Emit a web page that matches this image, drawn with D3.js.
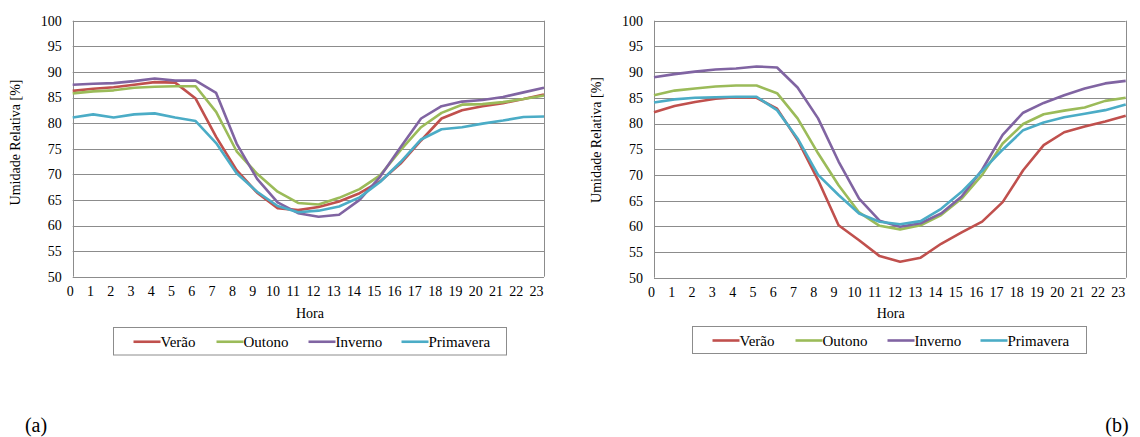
<!DOCTYPE html>
<html>
<head>
<meta charset="utf-8">
<script src="https://cdn.jsdelivr.net/npm/d3@7/dist/d3.min.js"></script>
<style>
  html, body { margin: 0; padding: 0; background: #fff; }
  svg { display: block; }
</style>
</head>
<body>
<svg id="chart" width="1140" height="437"></svg>
<script>
// ---- Data ----
const hours = d3.range(0, 24);
const seriesNames = ["Verão", "Outono", "Inverno", "Primavera"];
const yTicks = [50, 55, 60, 65, 70, 75, 80, 85, 90, 95, 100];

// Panel (a)
const aVerao     = [86.3, 86.7, 87.0, 87.5, 88.0, 87.9, 84.8, 77.3, 70.8, 66.4, 63.4, 63.0, 63.6, 64.7, 66.3, 68.6, 72.1, 76.6, 80.9, 82.5, 83.3, 83.9, 84.7, 85.6];
const aOutono    = [85.8, 86.2, 86.4, 86.9, 87.1, 87.2, 87.2, 82.2, 74.5, 70.1, 66.6, 64.4, 64.1, 65.4, 67.1, 69.8, 74.7, 79.2, 82.0, 83.6, 83.7, 84.1, 84.7, 85.4];
const aInverno   = [87.5, 87.7, 87.8, 88.2, 88.7, 88.3, 88.3, 85.9, 76.0, 69.1, 64.5, 62.4, 61.7, 62.1, 65.0, 69.5, 75.3, 80.9, 83.3, 84.2, 84.5, 85.1, 86.0, 86.9];
const aPrimavera = [81.1, 81.7, 81.1, 81.7, 81.9, 81.1, 80.4, 76.1, 70.2, 66.6, 63.8, 62.6, 62.9, 63.7, 65.5, 68.5, 72.4, 76.8, 78.8, 79.2, 79.9, 80.5, 81.2, 81.3];

// Panel (b)
const bVerao     = [82.2, 83.4, 84.2, 84.8, 85.1, 85.0, 82.9, 76.8, 69.0, 60.2, 57.3, 54.2, 53.1, 53.9, 56.6, 58.8, 60.9, 64.7, 70.9, 75.8, 78.3, 79.4, 80.4, 81.5];
const bOutono    = [85.5, 86.4, 86.8, 87.2, 87.4, 87.4, 85.9, 81.0, 74.2, 68.0, 62.7, 60.1, 59.4, 60.2, 62.2, 65.4, 70.0, 76.1, 79.9, 81.8, 82.5, 83.1, 84.4, 85.0];
const bInverno   = [89.0, 89.6, 90.1, 90.5, 90.7, 91.1, 90.9, 87.0, 81.0, 72.6, 65.4, 61.1, 59.9, 60.6, 62.5, 65.8, 71.0, 77.8, 82.1, 84.0, 85.5, 86.8, 87.8, 88.3];
const bPrimavera = [84.1, 84.7, 85.0, 85.1, 85.2, 85.2, 82.6, 77.1, 70.0, 66.1, 62.5, 60.9, 60.4, 61.0, 63.4, 66.7, 70.8, 74.9, 78.7, 80.2, 81.2, 81.9, 82.6, 83.7];

const yLabel = "Umidade Relativa [%]";
const xLabel = "Hora";

const FONT = '"Liberation Serif", "Times New Roman", serif';

// ---- Styles ----
const colors = ["#C0504D", "#9BBB59", "#8064A2", "#4BACC6"];
const gridColor = "#8c8c8c";

const panels = [
  { tag: "(a)", series: [aVerao, aOutono, aInverno, aPrimavera],
    x0: 72.7, x1: 544, yTop: 20.7, yBot: 276.7, yTitleX: 15, yTitleY: 142.5,
    hora: [310, 313], legend: { x: 113.5, y: 327.5, w: 393, h: 27.5 }, tagPos: [36, 432] },
  { tag: "(b)", series: [bVerao, bOutono, bInverno, bPrimavera],
    x0: 654, x1: 1125.7, yTop: 20.7, yBot: 277.7, yTitleX: 596, yTitleY: 140,
    hora: [890.7, 313.5], legend: { x: 692.5, y: 326.5, w: 394, h: 27 }, tagPos: [1117, 432] }
];

const svg = d3.select("#chart");

panels.forEach(p => {
  const g = svg.append("g");
  const x = d3.scaleLinear().domain([0, 23]).range([p.x0, p.x1]);
  const xl = d3.scaleLinear().domain([0, 23]).range([p.x0 - 3, p.x1 - 8]);
  const y = d3.scaleLinear().domain([50, 100]).range([p.yBot, p.yTop]);

  // gridlines
  g.append("g").selectAll("line").data(yTicks).join("line")
    .attr("x1", p.x0).attr("x2", p.x1)
    .attr("y1", d => Math.round(y(d)) + 0.5).attr("y2", d => Math.round(y(d)) + 0.5)
    .attr("stroke", gridColor).attr("stroke-width", 1);
  [p.x0, p.x1].forEach(xx => {
    g.append("line").attr("x1", Math.round(xx) + 0.5).attr("x2", Math.round(xx) + 0.5)
      .attr("y1", y(100)).attr("y2", y(50)).attr("stroke", gridColor).attr("stroke-width", 1);
  });

  // y axis tick labels
  const yAxis = d3.axisLeft(y).tickValues(yTicks).tickSize(0).tickPadding(11);
  const ya = g.append("g").attr("transform", `translate(${p.x0},0)`).call(yAxis);
  ya.attr("font-family", FONT).attr("font-size", 14);
  ya.select(".domain").remove();
  ya.selectAll("text").attr("fill", "#000");

  // x axis tick labels
  const xAxis = d3.axisBottom(xl).tickValues(hours).tickFormat(d3.format("d")).tickSize(0).tickPadding(9);
  const xa = g.append("g").attr("transform", `translate(0,${p.yBot})`).call(xAxis);
  xa.attr("font-family", FONT).attr("font-size", 14);
  xa.select(".domain").remove();
  xa.selectAll("text").attr("fill", "#000");

  // lines
  const line = d3.line().x((d, i) => x(hours[i])).y(d => y(d));
  p.series.forEach((s, k) => {
    g.append("path").datum(s).attr("d", line)
      .attr("fill", "none").attr("stroke", colors[k]).attr("stroke-width", 2.6)
      .attr("stroke-linejoin", "round");
  });

  // axis titles
  g.append("text").attr("transform", `translate(${p.yTitleX},${p.yTitleY}) rotate(-90)`)
    .attr("text-anchor", "middle").attr("dominant-baseline", "central")
    .attr("font-family", FONT).attr("font-size", 14).text(yLabel);
  g.append("text").attr("x", p.hora[0]).attr("y", p.hora[1])
    .attr("text-anchor", "middle").attr("dominant-baseline", "central")
    .attr("font-family", FONT).attr("font-size", 14).text(xLabel);

  // legend
  const L = p.legend;
  g.append("rect").attr("x", L.x).attr("y", L.y).attr("width", L.w).attr("height", L.h)
    .attr("fill", "#fff").attr("stroke", "#8c8c8c").attr("stroke-width", 1);
  const offs = [20, 103, 195, 288];
  seriesNames.forEach((n, k) => {
    const lx = L.x + offs[k];
    const ly = L.y + L.h / 2 + 0.5;
    g.append("line").attr("x1", lx).attr("x2", lx + 27).attr("y1", ly).attr("y2", ly)
      .attr("stroke", colors[k]).attr("stroke-width", 2.6);
    g.append("text").attr("x", lx + 27).attr("y", ly).attr("dominant-baseline", "central")
      .attr("font-family", FONT).attr("font-size", 15).text(n);
  });

  // panel tag
  g.append("text").attr("x", p.tagPos[0]).attr("y", p.tagPos[1])
    .attr("text-anchor", "middle").attr("font-family", FONT).attr("font-size", 20).text(p.tag);
});
</script>
</body>
</html>
